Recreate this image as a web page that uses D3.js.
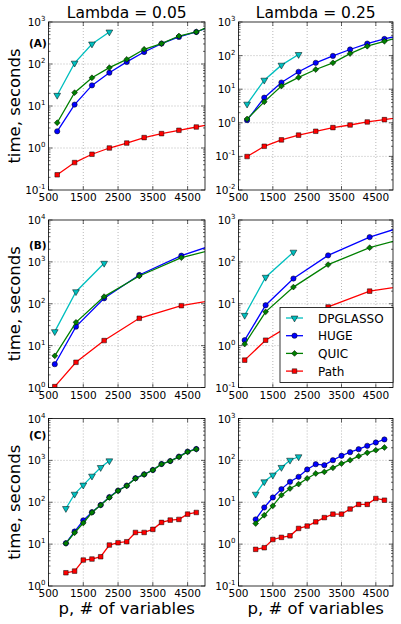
<!DOCTYPE html>
<html><head><meta charset="utf-8">
<script src="https://cdn.jsdelivr.net/npm/d3@7"></script>
<style>body{margin:0;background:#fff}svg{display:block}text{font-family:"DejaVu Sans",sans-serif}</style>
</head><body><svg id="c" width="401" height="624"></svg>
<script>
// ---------- data ----------
const methods = ["DPGLASSO", "HUGE", "QUIC", "Path"];
const colTitles = ["Lambda = 0.05", "Lambda = 0.25"];
const rowLabels = ["(A)", "(B)", "(C)"];
const xTicks = [500, 1500, 2500, 3500, 4500];

const pA = [750, 1250, 1750, 2250, 2750, 3250, 3750, 4250, 4750, 5250];
const pB = [680, 1290, 2100, 3110, 4320, 5500];
const pC = [1000, 1250, 1500, 1750, 2000, 2250, 2500, 2750, 3000, 3250, 3500, 3750, 4000, 4250, 4500, 4750];

const dpglassoA05 = [18, 105, 300, 580];
const hugeA05 = [2.5, 10.8, 31, 62, 112, 193, 306, 440, 578, 840];
const quicA05 = [4.0, 20.8, 47, 82, 129, 224, 306, 464, 578, 870];
const pathA05 = [0.23, 0.45, 0.71, 1.0, 1.31, 1.77, 2.2, 2.64, 3.16, 3.8];

const dpglassoA25 = [3.6, 18.6, 52, 108];
const hugeA25 = [1.2, 5.6, 15.8, 33, 61, 98, 152, 228, 313, 411];
const quicA25 = [1.3, 4.2, 12.4, 22.4, 38.6, 61, 115, 190, 267, 367];
const pathA25 = [0.099, 0.2, 0.31, 0.43, 0.56, 0.72, 0.86, 1.06, 1.24, 1.49];

const dpglassoB05 = [21.6, 194, 927];
const hugeB05 = [3.6, 28.4, 135, 486, 1406, 3000];
const quicB05 = [5.7, 36, 148, 460, 1260, 2230];
const pathB05 = [1.05, 4.0, 13.2, 45, 90, 132];

const dpglassoB25 = [5.3, 43, 171];
const hugeB25 = [1.35, 9.2, 40, 143, 390, 790];
const quicB25 = [1.09, 6.4, 25, 86, 218, 396];
const pathB25 = [0.45, 1.35, 3.4, 8.4, 20, 28];

const dpglassoC05 = [71, 156, 257, 421, 676, 977];
const hugeC05 = [10.5, 20, 37, 58, 86, 133, 190, 250, 375, 465, 590, 820, 965, 1230, 1620, 1870];
const quicC05 = [10.4, 18.7, 32, 57, 85.5, 130, 188, 247, 370, 460, 585, 813, 960, 1217, 1600, 1853];
const pathC05 = [2.07, 2.27, 4.16, 4.4, 5.0, 9.5, 10.8, 11.4, 19, 19, 22.5, 33, 37.5, 38.9, 52, 57];

const dpglassoC25 = [15.6, 30.8, 44.5, 68, 101, 122];
const hugeC25 = [3.9, 7.5, 13, 20.6, 30.8, 40.5, 60.7, 81, 77, 101, 129, 157, 185, 223, 267, 316];
const quicC25 = [3.1, 4.9, 8.2, 14.8, 21.3, 27.1, 37, 48.6, 53, 66.5, 84, 101, 126, 152, 175, 203];
const pathC25 = [0.75, 0.82, 1.29, 1.45, 1.58, 2.37, 2.7, 3.4, 4.3, 5.2, 5.2, 6.9, 8.9, 8.9, 12.3, 11.2];

// y-axis decade ranges (exponents) per panel
const yExpA05 = [-1, 3], yExpA25 = [-2, 3];
const yExpB05 = [0, 4], yExpB25 = [-1, 3];
const yExpC05 = [0, 4], yExpC25 = [-1, 3];

// ---------- layout / style ----------
const colors = ["#00BFBF", "#0000FF", "#008000", "#FF0000"];
const shapes = ["tri", "circle", "diamond", "square"];
const cols = [{x0: 48.5, x1: 205}, {x0: 238.5, x1: 393}];
const rows = [{y0: 22, y1: 190}, {y0: 220, y1: 387.5}, {y0: 418.5, y1: 586}];
const labelY = [47, 249, 439];

const panels = [
  {r: 0, c: 0, p: pA, yExp: yExpA05, s: [dpglassoA05, hugeA05, quicA05, pathA05]},
  {r: 0, c: 1, p: pA, yExp: yExpA25, s: [dpglassoA25, hugeA25, quicA25, pathA25]},
  {r: 1, c: 0, p: pB, yExp: yExpB05, s: [dpglassoB05, hugeB05, quicB05, pathB05]},
  {r: 1, c: 1, p: pB, yExp: yExpB25, s: [dpglassoB25, hugeB25, quicB25, pathB25]},
  {r: 2, c: 0, p: pC, yExp: yExpC05, s: [dpglassoC05, hugeC05, quicC05, pathC05]},
  {r: 2, c: 1, p: pC, yExp: yExpC25, s: [dpglassoC25, hugeC25, quicC25, pathC25]},
];

const svg = d3.select("#c");

function marker(sel, shape, color) {
  let path;
  if (shape === "circle") path = d3.symbol(d3.symbolCircle, 22)();
  else if (shape === "square") path = d3.symbol(d3.symbolSquare, 21)();
  else if (shape === "diamond") path = d3.symbol(d3.symbolSquare, 17)();
  else path = d3.symbol(d3.symbolTriangle, 20)();
  const rot = shape === "diamond" ? 45 : shape === "tri" ? 180 : 0;
  sel.append("path").attr("d", path).attr("transform", `rotate(${rot})`)
    .attr("fill", color).attr("stroke", "#000").attr("stroke-width", 0.5);
}

function supLabel(g, x, y, e, anchor) {
  const t = g.append("text").attr("x", x).attr("y", y).attr("text-anchor", anchor)
    .attr("font-size", 10.5).attr("fill", "#000");
  t.append("tspan").text("10");
  t.append("tspan").attr("dy", -5).attr("font-size", 7).text(e < 0 ? "-" + Math.abs(e) : String(e));
}

panels.forEach((P, i) => {
  const C = cols[P.c], R = rows[P.r];
  const x = d3.scaleLinear().domain([500, 5000]).range([C.x0, C.x1]);
  const y = d3.scaleLog().domain([Math.pow(10, P.yExp[0]), Math.pow(10, P.yExp[1])]).range([R.y1, R.y0]);
  const g = svg.append("g");

  // grid
  const exps = d3.range(P.yExp[0], P.yExp[1] + 1);
  g.append("g").selectAll("line.gy").data(exps.slice(1, -1)).join("line")
    .attr("x1", C.x0).attr("x2", C.x1).attr("y1", e => y(Math.pow(10, e))).attr("y2", e => y(Math.pow(10, e)))
    .attr("stroke", "#999").attr("stroke-width", 0.7).attr("stroke-dasharray", "1,2");
  g.append("g").selectAll("line.gx").data(xTicks.slice(1)).join("line")
    .attr("y1", R.y0).attr("y2", R.y1).attr("x1", d => x(d)).attr("x2", d => x(d))
    .attr("stroke", "#999").attr("stroke-width", 0.7).attr("stroke-dasharray", "1,2");

  // ticks (inward, all sides)
  const tk = g.append("g").attr("stroke", "#000").attr("stroke-width", 0.6);
  exps.forEach(e => {
    const yy = y(Math.pow(10, e));
    tk.append("line").attr("x1", C.x0).attr("x2", C.x0 + 4).attr("y1", yy).attr("y2", yy);
    tk.append("line").attr("x1", C.x1).attr("x2", C.x1 - 4).attr("y1", yy).attr("y2", yy);
    if (e < P.yExp[1]) {
      for (let m = 2; m <= 9; m++) {
        const ym = y(m * Math.pow(10, e));
        tk.append("line").attr("x1", C.x0).attr("x2", C.x0 + 2).attr("y1", ym).attr("y2", ym);
        tk.append("line").attr("x1", C.x1).attr("x2", C.x1 - 2).attr("y1", ym).attr("y2", ym);
      }
    }
    supLabel(g, C.x0 - 3, yy + 4, e, "end");
  });
  xTicks.forEach(d => {
    const xx = x(d);
    tk.append("line").attr("x1", xx).attr("x2", xx).attr("y1", R.y1).attr("y2", R.y1 - 4);
    tk.append("line").attr("x1", xx).attr("x2", xx).attr("y1", R.y0).attr("y2", R.y0 + 4);
    g.append("text").attr("x", xx).attr("y", R.y1 + 11).attr("text-anchor", "middle")
      .attr("font-size", 10.5).text(d);
  });

  // data
  const clipId = "clip" + i;
  svg.append("clipPath").attr("id", clipId).append("rect")
    .attr("x", C.x0).attr("y", R.y0).attr("width", C.x1 - C.x0).attr("height", R.y1 - R.y0);
  const dg = g.append("g").attr("clip-path", `url(#${clipId})`);
  const line = d3.line().x(d => x(d[0])).y(d => y(d[1]));
  P.s.forEach((vals, k) => {
    const pts = vals.map((v, j) => [P.p[j], v]);
    dg.append("path").attr("d", line(pts)).attr("fill", "none")
      .attr("stroke", colors[k]).attr("stroke-width", 1.3);
    pts.forEach(pt => {
      const mg = dg.append("g").attr("transform", `translate(${x(pt[0])},${y(pt[1])})`);
      marker(mg, shapes[k], colors[k]);
    });
  });

  // frame
  g.append("rect").attr("x", C.x0).attr("y", R.y0).attr("width", C.x1 - C.x0).attr("height", R.y1 - R.y0)
    .attr("fill", "none").attr("stroke", "#000").attr("stroke-width", 0.8);

  if (P.c === 0) {
    g.append("text").attr("x", 29).attr("y", labelY[P.r]).attr("font-size", 10.5).attr("font-weight", "bold")
      .text(rowLabels[P.r]);
    g.append("text").attr("transform", `translate(20,${(R.y0 + R.y1) / 2}) rotate(-90)`)
      .attr("text-anchor", "middle").attr("font-size", 16.5).text("time, seconds");
  }
  if (P.r === 0) {
    g.append("text").attr("x", (C.x0 + C.x1) / 2).attr("y", 18).attr("text-anchor", "middle")
      .attr("font-size", 15.5).text(colTitles[P.c]);
  }
  if (P.r === 2) {
    g.append("text").attr("x", (C.x0 + C.x1) / 2).attr("y", 614).attr("text-anchor", "middle")
      .attr("font-size", 16.5).text("p, # of variables");
  }

  // legend in row B, right column
  if (P.r === 1 && P.c === 1) {
    const lg = svg.append("g");
    lg.append("rect").attr("x", 280).attr("y", 307.5).attr("width", 113).attr("height", 75)
      .attr("fill", "#fff").attr("stroke", "#000").attr("stroke-width", 0.8);
    methods.forEach((m, k) => {
      const yy = 318 + k * 17.7;
      lg.append("line").attr("x1", 286).attr("x2", 303).attr("y1", yy).attr("y2", yy)
        .attr("stroke", colors[k]).attr("stroke-width", 1.3);
      const mg = lg.append("g").attr("transform", `translate(294.5,${yy})`);
      marker(mg, shapes[k], colors[k]);
      lg.append("text").attr("x", 318).attr("y", yy + 4.5).attr("font-size", 12).text(m);
    });
  }
});
</script></body></html>
